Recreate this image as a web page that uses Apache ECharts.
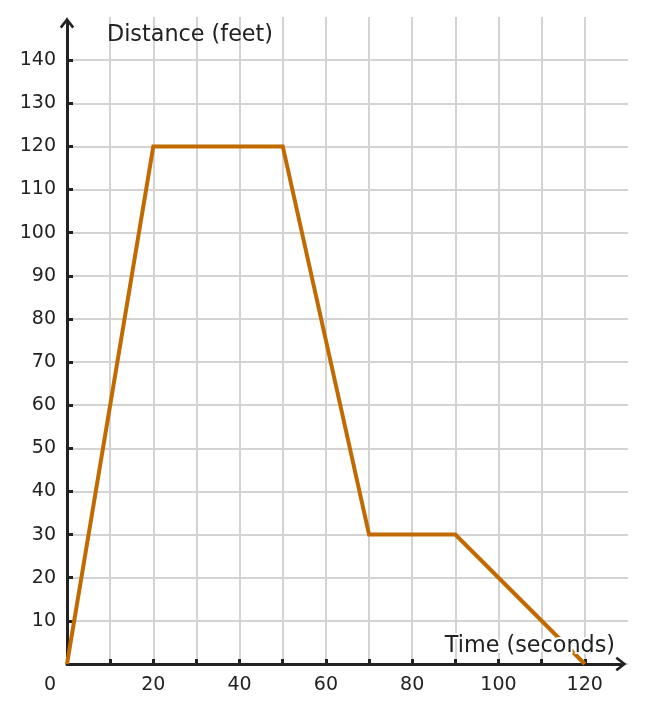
<!DOCTYPE html>
<html>
<head>
<meta charset="utf-8">
<script src="https://cdn.jsdelivr.net/npm/echarts@6/dist/echarts.min.js"></script>
<style>
  html, body { margin: 0; padding: 0; background: #fff; }
  #chart { width: 645px; height: 713px; }
</style>
</head>
<body>
<div id="chart"></div>
<script>
var timeSec = [0, 20, 50, 70, 90, 120];
var distanceFt = [0, 120, 120, 30, 30, 0];
var xTicks = [0, 10, 20, 30, 40, 50, 60, 70, 80, 90, 100, 110, 120];
var xLabels = [0, 20, 40, 60, 80, 100, 120];
var yTicks = [10, 20, 30, 40, 50, 60, 70, 80, 90, 100, 110, 120, 130, 140];
var xName = 'Time (seconds)';
var yName = 'Distance (feet)';

(function drawDistance() {
    var chartDom = document.getElementById('chart');
    var myChart = echarts.init(chartDom);
    var ink = '#222222';
    var font = 'DejaVu Sans';
    // open chevron arrow head
    var arrow = 'path://M0,9 L7,0 L14,9 L12,10.6 L7,4 L2,10.6 Z';

    var points = timeSec.map(function (t, i) { return [t, distanceFt[i]]; });

    var option = {
        animation: false,
        backgroundColor: '#fff',
        grid: [
            // full area: grid lines + series
            { left: 67, right: 17, top: 17, bottom: 49 },
            // slightly shorter: axis lines with arrows
            { left: 67, right: 24, top: 23, bottom: 49 }
        ],
        xAxis: [
            {
                gridIndex: 0, type: 'value', min: 0, max: 130, interval: 10,
                axisLine: { show: false }, axisTick: { show: false }, axisLabel: { show: false },
                splitLine: { show: true, showMaxLine: false, lineStyle: { color: '#d3d3d3', width: 2 } }
            },
            {
                gridIndex: 1, type: 'value', min: 0, max: 128.4,
                axisLine: {
                    show: true, onZero: false,
                    symbol: ['none', arrow], symbolSize: [17, 11],
                    lineStyle: { color: ink, width: 3 }
                },
                axisTick: {
                    show: true, inside: true, length: 5, customValues: xTicks,
                    lineStyle: { color: ink, width: 3 }
                },
                axisLabel: {
                    show: true, customValues: xLabels, margin: 12,
                    color: ink, fontFamily: font, fontSize: 19,
                    formatter: function (v) { return v === 0 ? '{o|0}' : String(v); },
                    rich: { o: { color: ink, fontFamily: font, fontSize: 19, padding: [0, 34, 0, 0] } }
                },
                splitLine: { show: false }
            }
        ],
        yAxis: [
            {
                gridIndex: 0, type: 'value', min: 0, max: 150, interval: 10,
                axisLine: { show: false }, axisTick: { show: false }, axisLabel: { show: false },
                splitLine: { show: true, showMaxLine: false, lineStyle: { color: '#d3d3d3', width: 2 } }
            },
            {
                gridIndex: 1, type: 'value', min: 0, max: 148.6,
                axisLine: {
                    show: true, onZero: false,
                    symbol: ['none', arrow], symbolSize: [17, 11],
                    lineStyle: { color: ink, width: 3 }
                },
                axisTick: {
                    show: true, inside: true, length: 6, customValues: yTicks,
                    lineStyle: { color: ink, width: 3 }
                },
                axisLabel: {
                    show: true, customValues: yTicks, margin: 11,
                    color: ink, fontFamily: font, fontSize: 19
                },
                splitLine: { show: false }
            }
        ],
        graphic: [
            {
                type: 'text', left: 107, top: 24, z: 100,
                style: { text: yName, fill: ink, font: '22.3px "DejaVu Sans"' }
            },
            {
                type: 'text', right: 28, top: 633, z: 100,
                style: {
                    text: xName, fill: ink, font: '22.3px "DejaVu Sans"',
                    stroke: '#fff', lineWidth: 4
                }
            }
        ],
        series: [
            {
                name: 'Distance',
                type: 'line',
                xAxisIndex: 0,
                yAxisIndex: 0,
                data: points,
                symbol: 'none',
                z: 10,
                lineStyle: { color: '#c06a00', width: 4, join: 'miter' }
            }
        ]
    };

    option && myChart.setOption(option);
})();
</script>
</body>
</html>
